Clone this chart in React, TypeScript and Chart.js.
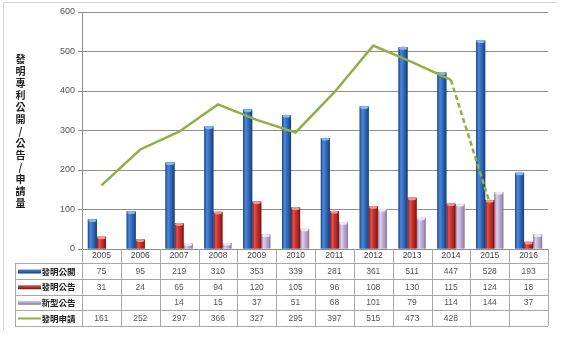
import React, { useEffect, useRef } from 'react';
import { Chart, registerables } from 'chart.js';

Chart.register(...registerables);

const years = ['2005', '2006', '2007', '2008', '2009', '2010', '2011', '2012', '2013', '2014', '2015', '2016'];
const inventionPublished = [75, 95, 219, 310, 353, 339, 281, 361, 511, 447, 528, 193];
const inventionGranted = [31, 24, 65, 94, 120, 105, 96, 108, 130, 115, 124, 18];
const utilityGranted = [null, null, 14, 15, 37, 51, 68, 101, 79, 114, 144, 37];
const inventionApplied = [161, 252, 297, 366, 327, 295, 397, 515, 473, 428, null, null];
const inventionAppliedEstimate = [null, null, null, null, null, null, null, null, null, 428, 116, null];
const seriesLabels = ['發明公開', '發明公告', '新型公告', '發明申請'];
const axisTitle = '發明專利公開/公告/申請量';
const yMax = 600;
const yStep = 100;

const CJK = '"Noto Sans CJK TC", "Noto Sans CJK SC", sans-serif';
const NUM = '"Liberation Sans", "DejaVu Sans", sans-serif';

const barStyles = [
  { stops: ['#1b4586', '#4c88d8', '#3a72c2', '#25559e', '#173d78'], cap: '#86b6ee', key: '#3a72c2' },
  { stops: ['#861b17', '#e2524b', '#c8352f', '#a8241f', '#74130f'], cap: '#f2938d', key: '#c8352f' },
  { stops: ['#8b7aa4', '#dcd2ea', '#c2b4d8', '#a796c0', '#8472a0'], cap: '#ece6f4', key: '#c2b4d8' },
];
const lineColor = '#8fb044';

const tablePlugin = {
  id: 'tablePlugin',
  afterDatasetDraw(chart: any, args: any) {
    const meta = args.meta;
    if (meta.type !== 'bar') return;
    const style = barStyles[args.index];
    if (!style) return;
    const ctx = chart.ctx;
    const area = chart.chartArea;
    ctx.save();
    ctx.beginPath();
    ctx.rect(area.left, area.top - 5, area.right - area.left, area.bottom - area.top + 5);
    ctx.clip();
    meta.data.forEach((el: any, i: number) => {
      const v = chart.data.datasets[args.index].data[i];
      if (v === null || v === undefined) return;
      const w = el.width;
      const l = el.x - w / 2;
      const top = Math.min(el.y, el.base);
      const h = Math.abs(el.base - el.y);
      const g = ctx.createLinearGradient(l, 0, l + w, 0);
      g.addColorStop(0, style.stops[0]);
      g.addColorStop(0.28, style.stops[1]);
      g.addColorStop(0.5, style.stops[2]);
      g.addColorStop(0.78, style.stops[3]);
      g.addColorStop(1, style.stops[4]);
      ctx.fillStyle = g;
      ctx.fillRect(l, top, w, h);
      ctx.fillStyle = style.cap;
      ctx.beginPath();
      ctx.ellipse(el.x, top + 1, w / 2 - 0.5, 1.6, 0, 0, Math.PI * 2);
      ctx.fill();
    });
    ctx.restore();
  },
  afterDraw(chart: any) {
    const ctx = chart.ctx;
    const area = chart.chartArea;
    const xs = chart.scales.x;
    const n = years.length;
    const left = xs.left;
    const right = xs.right;
    const cw = (right - left) / n;
    const tableLeft = 15;
    const headTop = area.bottom;
    const rowTops = [263, 279, 294.5, 310, 326];

    ctx.save();
    // outer frame
    ctx.strokeStyle = '#d6d6d6';
    ctx.lineWidth = 1;
    ctx.beginPath();
    ctx.moveTo(3.5, 330);
    ctx.lineTo(3.5, 2.5);
    ctx.lineTo(557, 2.5);
    ctx.stroke();

    // table grid
    ctx.strokeStyle = '#a8a8a8';
    ctx.beginPath();
    for (let i = 0; i <= n; i++) {
      const x = Math.round(left + i * cw) + 0.5;
      ctx.moveTo(x, headTop);
      ctx.lineTo(x, rowTops[4]);
    }
    rowTops.forEach((y) => {
      ctx.moveTo(tableLeft, Math.round(y) + 0.5);
      ctx.lineTo(right, Math.round(y) + 0.5);
    });
    ctx.moveTo(tableLeft + 0.5, rowTops[0]);
    ctx.lineTo(tableLeft + 0.5, rowTops[4]);
    ctx.stroke();

    // year header
    ctx.fillStyle = '#444';
    ctx.font = `8.5px ${NUM}`;
    ctx.textAlign = 'center';
    ctx.textBaseline = 'middle';
    years.forEach((yr, i) => {
      ctx.fillText(yr, left + (i + 0.5) * cw, headTop + 7);
    });

    const rows = [inventionPublished, inventionGranted, utilityGranted, inventionApplied];
    rows.forEach((row, r) => {
      const cy = (rowTops[r] + rowTops[r + 1]) / 2 + 0.5;
      ctx.fillStyle = '#555';
      ctx.font = `8.5px ${NUM}`;
      ctx.textAlign = 'center';
      row.forEach((v, i) => {
        if (v === null || v === undefined) return;
        ctx.fillText(String(v), left + (i + 0.5) * cw, cy);
      });
      // legend key
      if (r < 3) {
        const st = barStyles[r];
        const g = ctx.createLinearGradient(0, cy - 2, 0, cy + 2);
        g.addColorStop(0, st.stops[1]);
        g.addColorStop(1, st.stops[4]);
        ctx.fillStyle = g;
        ctx.fillRect(18, cy - 2, 23, 4);
      } else {
        ctx.strokeStyle = lineColor;
        ctx.lineWidth = 2;
        ctx.beginPath();
        ctx.moveTo(18, cy);
        ctx.lineTo(41, cy);
        ctx.stroke();
      }
      ctx.fillStyle = '#222';
      ctx.font = `bold 8.5px ${CJK}`;
      ctx.textAlign = 'left';
      ctx.fillText(seriesLabels[r], 41.5, cy);
    });

    // y axis title, stacked characters
    ctx.fillStyle = '#222';
    ctx.font = `bold 10px ${CJK}`;
    ctx.textAlign = 'center';
    ctx.textBaseline = 'middle';
    Array.from(axisTitle).forEach((ch, i) => {
      ctx.fillText(ch, 20.5, 59 + i * 12);
    });
    ctx.restore();
  },
};

export default function App() {
  const ref = useRef<HTMLCanvasElement | null>(null);

  useEffect(() => {
    document.body.style.margin = '0';
    const canvas = ref.current;
    if (!canvas) return;
    const chart = new Chart(canvas, {
      type: 'bar',
      data: {
        labels: years,
        datasets: [
          {
            type: 'bar',
            label: seriesLabels[0],
            data: inventionPublished,
            backgroundColor: barStyles[0].key,
            barPercentage: 1,
            categoryPercentage: 0.7,
            order: 2,
          },
          {
            type: 'bar',
            label: seriesLabels[1],
            data: inventionGranted,
            backgroundColor: barStyles[1].key,
            barPercentage: 1,
            categoryPercentage: 0.7,
            order: 2,
          },
          {
            type: 'bar',
            label: seriesLabels[2],
            data: utilityGranted,
            backgroundColor: barStyles[2].key,
            barPercentage: 1,
            categoryPercentage: 0.7,
            order: 2,
          },
          {
            type: 'line',
            label: seriesLabels[3],
            data: inventionApplied,
            borderColor: lineColor,
            borderWidth: 2.5,
            pointRadius: 0,
            tension: 0,
            fill: false,
            order: 0,
          },
          {
            type: 'line',
            label: seriesLabels[3] + ' (est.)',
            data: inventionAppliedEstimate,
            borderColor: lineColor,
            borderWidth: 2.5,
            borderDash: [5, 3],
            pointRadius: 0,
            tension: 0,
            fill: false,
            order: 0,
          },
        ] as any,
      },
      options: {
        animation: false,
        responsive: false,
        maintainAspectRatio: false,
        layout: { padding: { left: 0, right: 33, top: 12, bottom: 0 } },
        plugins: {
          legend: { display: false },
          tooltip: { enabled: false },
        },
        scales: {
          x: {
            type: 'category',
            offset: true,
            grid: { display: false },
            border: { display: false },
            ticks: { display: false },
            afterFit: (scale: any) => {
              scale.height = 104;
            },
          },
          y: {
            min: 0,
            max: yMax,
            ticks: {
              stepSize: yStep,
              color: '#555',
              font: { size: 9, family: NUM },
              padding: 3,
            },
            grid: { color: '#8f8f8f', lineWidth: 1, tickLength: 4, drawTicks: true },
            border: { display: true, color: '#8f8f8f' },
            afterFit: (scale: any) => {
              scale.width = 82;
            },
          },
        },
      } as any,
      plugins: [tablePlugin],
    });
    return () => chart.destroy();
  }, []);

  return (
    <div style={{ width: 581, height: 353 }}>
      <canvas ref={ref} width={581} height={353} style={{ display: 'block', width: 581, height: 353 }} />
    </div>
  );
}
